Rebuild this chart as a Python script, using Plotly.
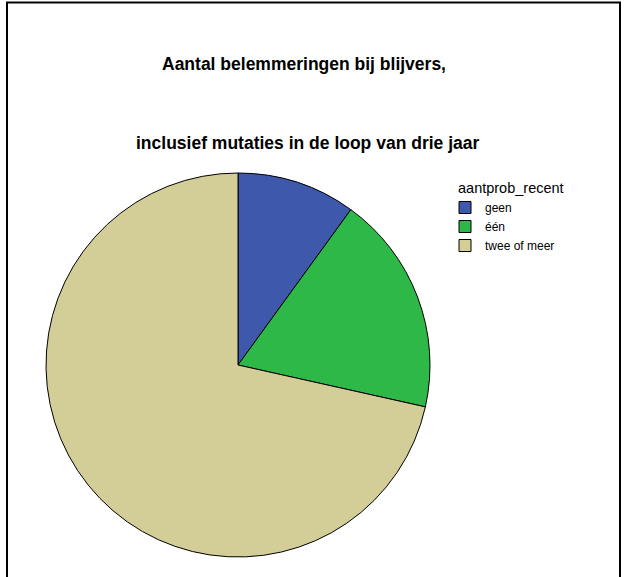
import plotly.graph_objects as go

categories = ["geen", "één", "twee of meer"]
values = [10.0, 18.5, 71.5]
colors = ["#3E58AC", "#2EB848", "#D3CE97"]
legend_title = "aantprob_recent"
title_lines = ["Aantal belemmeringen bij blijvers,", "inclusief mutaties in de loop van drie jaar"]

W, H = 627, 577
FONT = "Arial, Liberation Sans, sans-serif"

fig = go.Figure(go.Pie(
    labels=categories, values=values, sort=False, direction="clockwise", rotation=0,
    marker=dict(colors=colors, line=dict(color="black", width=1)),
    textinfo="none", hoverinfo="label+percent",
    domain=dict(x=[46 / W, 430 / W], y=[(H - 557) / H, (H - 173) / H]),
))

fig.update_layout(
    width=W, height=H,
    margin=dict(l=0, r=0, t=0, b=0),
    paper_bgcolor="white", plot_bgcolor="white",
    font=dict(family=FONT, color="black"),
    showlegend=True,
    legend=dict(
        font=dict(size=12),
        x=445 / W, y=(H - 193) / H, xanchor="left", yanchor="top",
        tracegroupgap=0, itemwidth=30,
        bgcolor="rgba(0,0,0,0)",
    ),
    shapes=[
        dict(type="rect", xref="paper", yref="paper",
             x0=7 / W, x1=620 / W, y0=-0.05, y1=(H - 2.5) / H,
             line=dict(color="black", width=2), fillcolor="rgba(0,0,0,0)"),
    ],
    annotations=[
        dict(text="<b>%s</b>" % title_lines[0], x=303.5 / W, y=(H - 64.5) / H, xref="paper", yref="paper",
             showarrow=False, font=dict(size=17.5), xanchor="center", yanchor="middle"),
        dict(text="<b>%s</b>" % title_lines[1], x=307 / W, y=(H - 142.5) / H, xref="paper", yref="paper",
             showarrow=False, font=dict(size=17.5), xanchor="center", yanchor="middle"),
        dict(text=legend_title, x=456 / W, y=(H - 188) / H, xref="paper", yref="paper",
             showarrow=False, font=dict(size=14.5), xanchor="left", yanchor="middle"),
    ],
)

fig.write_html("out.html", config={"displayModeBar": False},
               post_script="document.body.style.margin='0px';")
